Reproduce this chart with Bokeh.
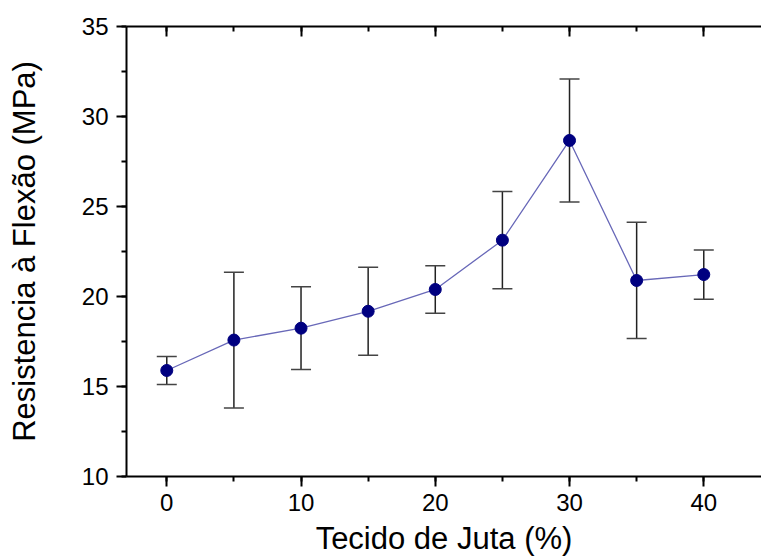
from bokeh.plotting import figure
from bokeh.models import ColumnDataSource, Whisker, TeeHead, LinearAxis, Range1d, SingleIntervalTicker
from bokeh.embed import file_html
from bokeh.resources import INLINE

juta = [0, 5, 10, 15, 20, 25, 30, 35, 40]
resistencia = [15.89, 17.58, 18.24, 19.18, 20.39, 23.13, 28.67, 20.89, 21.22]
erro = [0.78, 3.77, 2.30, 2.45, 1.32, 2.70, 3.42, 3.23, 1.37]

upper = [v + e for v, e in zip(resistencia, erro)]
lower = [v - e for v, e in zip(resistencia, erro)]
src = ColumnDataSource(dict(x=juta, y=resistencia, upper=upper, lower=lower))

FONT = "Liberation Sans"

p = figure(width=761, height=558, output_backend="svg", toolbar_location=None,
           x_range=Range1d(-3, 44.3), y_range=Range1d(10, 35),
           min_border_left=126, min_border_right=0, min_border_top=26, min_border_bottom=82,
           x_axis_label="Tecido de Juta (%)", y_axis_label="Resistencia à Flexão (MPa)")
p.outline_line_color = None
p.xgrid.visible = False
p.ygrid.visible = False
p.background_fill_color = "white"
p.border_fill_color = "white"

p.xaxis.ticker = SingleIntervalTicker(interval=10, num_minor_ticks=2)
p.yaxis.ticker = SingleIntervalTicker(interval=5, num_minor_ticks=2)

for ax in p.xaxis + p.yaxis:
    ax.axis_line_width = 2
    ax.axis_line_color = "black"
    ax.major_tick_line_width = 2
    ax.minor_tick_line_width = 2
    ax.major_tick_line_color = "black"
    ax.minor_tick_line_color = "black"
    ax.major_tick_in = 0
    ax.major_tick_out = 10
    ax.minor_tick_in = 0
    ax.minor_tick_out = 5
    ax.major_label_text_font = FONT
    ax.major_label_text_font_size = "24px"
    ax.major_label_text_color = "black"
    ax.axis_label_text_font = FONT
    ax.axis_label_text_font_size = "31px"
    ax.axis_label_text_font_style = "normal"
    ax.axis_label_text_color = "black"

p.xaxis.major_label_standoff = 7
p.xaxis.axis_label_standoff = 7
p.yaxis.major_label_standoff = 8
p.yaxis.axis_label_standoff = 37

top = LinearAxis(ticker=SingleIntervalTicker(interval=10, num_minor_ticks=2))
top.axis_line_width = 2
top.axis_line_color = "black"
top.major_tick_line_width = 2
top.minor_tick_line_width = 2
top.major_tick_line_color = "black"
top.minor_tick_line_color = "black"
top.major_tick_in = 10
top.major_tick_out = 0
top.minor_tick_in = 5
top.minor_tick_out = 0
top.major_label_overrides = {v: "" for v in range(-10, 60, 10)}
top.major_label_standoff = 0
p.add_layout(top, "above")

p.line("x", "y", source=src, line_color="#6868b8", line_width=1.3)

w = Whisker(source=src, base="x", upper="upper", lower="lower",
            line_color="#222222", line_width=1.5,
            upper_head=TeeHead(size=20, line_color="#444444", line_width=1.5),
            lower_head=TeeHead(size=20, line_color="#444444", line_width=1.5))
p.add_layout(w)

p.scatter("x", "y", source=src, size=12, fill_color="#000080", line_color="#000080")

open("out.html", "w").write(file_html(p, INLINE))
